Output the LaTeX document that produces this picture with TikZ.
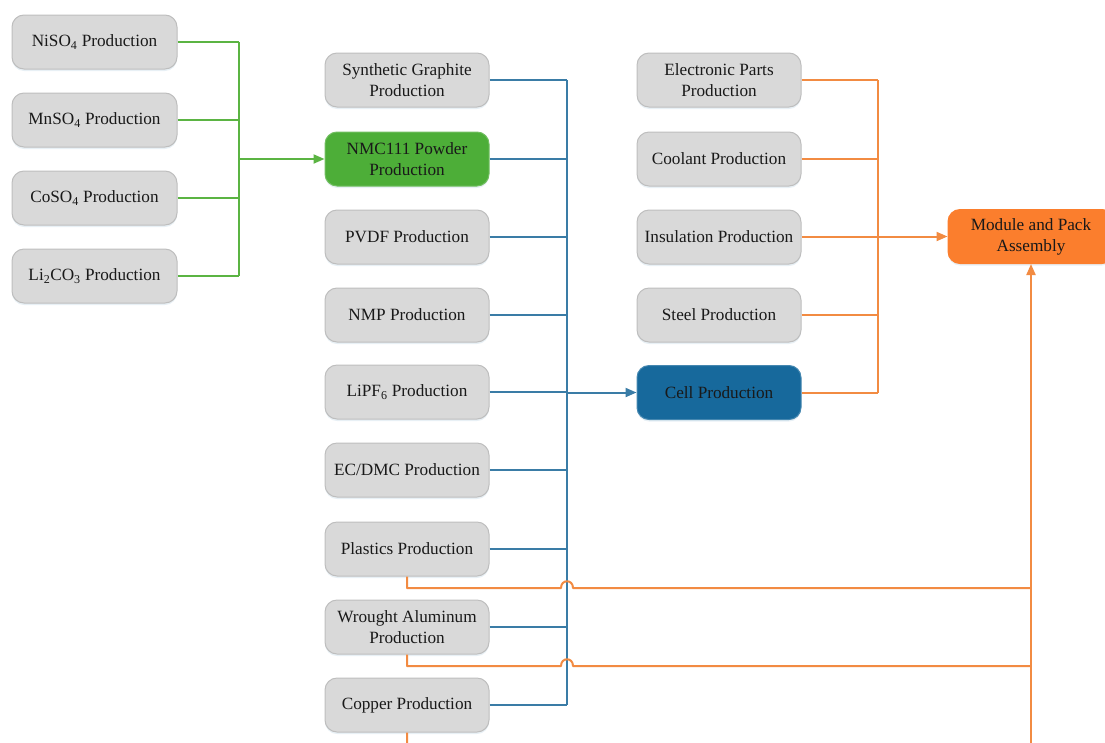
\documentclass[tikz,border=0pt]{standalone}
\usepackage{fontspec}
\setmainfont{Liberation Serif}
\usetikzlibrary{arrows.meta,shadows}
\definecolor{boxgray}{HTML}{D9D9D9}
\definecolor{rimgray}{HTML}{BEBEBE}
\definecolor{leafgreen}{HTML}{4DAE38}
\definecolor{linegreen}{HTML}{5BB443}
\definecolor{cellblue}{HTML}{17699C}
\definecolor{lineblue}{HTML}{3A7CA6}
\definecolor{packorange}{HTML}{FB7E2D}
\definecolor{lineorange}{HTML}{F28B42}
\begin{document}
\begin{tikzpicture}[x=1pt, y=-1pt, line join=round, >={Triangle[length=11pt,width=9pt]},
	font=\fontsize{17.2}{21}\selectfont,
	proc/.style={draw=rimgray, fill=boxgray, line width=1pt, rounded corners=12pt,
		minimum width=164pt, minimum height=54pt, align=center, text=black!90,
		drop shadow={shadow xshift=0pt, shadow yshift=-2pt, fill=cellblue!25, opacity=0.4}},
	greenbox/.style={proc, fill=leafgreen, draw=leafgreen!80!white},
	bluebox/.style={proc, fill=cellblue, draw=cellblue!80!white},
	orangebox/.style={proc, fill=packorange, draw=packorange, minimum width=166pt},
	gline/.style={linegreen, line width=2pt},
	bline/.style={lineblue, line width=2pt},
	oline/.style={lineorange, line width=2pt}]
	\clip (0,0) rectangle (1105,742);
	% raw materials for the cathode
	\foreach \ten/\y/\txt in {ni/42/NiSO\textsubscript{4} Production, mn/120/MnSO\textsubscript{4} Production,
		co/198/CoSO\textsubscript{4} Production, li/276/Li\textsubscript{2}CO\textsubscript{3} Production}
		\node[proc, minimum width=165pt] (\ten) at (94.5,\y) {\txt};
	% cell materials
	\node[proc] (sg) at (407,80) {Synthetic Graphite\\Production};
	\node[greenbox] (nmc) at (407,159) {NMC111 Powder\\Production};
	\foreach \ten/\y/\txt in {pvdf/237/PVDF Production, nmp/315/NMP Production,
		lipf/392/LiPF\textsubscript{6} Production, ec/470/{EC/DMC Production}}
		\node[proc] (\ten) at (407,\y) {\txt};
	\node[proc] (plast) at (407,549) {Plastics Production};
	\node[proc] (alu) at (407,627) {Wrought Aluminum\\Production};
	\node[proc] (cu) at (407,705) {Copper Production};
	% pack parts
	\node[proc] (elec) at (719,80) {Electronic Parts\\Production};
	\foreach \ten/\y/\txt in {cool/159/Coolant Production, ins/237/Insulation Production, steel/315/Steel Production}
		\node[proc] (\ten) at (719,\y) {\txt};
	\node[bluebox] (cell) at (719,392.5) {Cell Production};
	\node[orangebox] (pack) at (1031,236.5) {Module and Pack\\Assembly};
	% busbars
	\path (239,42) coordinate (gtop) (239,276) coordinate (gbot) (239,159) coordinate (gmid)
		(567,80) coordinate (btop) (567,705) coordinate (bbot) (567,392.5) coordinate (bmid)
		(878,80) coordinate (otop) (878,392.5) coordinate (obot) (878,236.5) coordinate (omid)
		(1031,760) coordinate (pfoot);
	\foreach \ten in {ni,mn,co,li} \draw[gline] (\ten.east) -- (\ten.east -| gtop);
	\draw[gline] (gtop) -- (gbot);
	\draw[gline,->] (gmid) -- (nmc.west);
	\foreach \ten in {sg,nmc,pvdf,nmp,lipf,ec,plast,alu,cu} \draw[bline] (\ten.east) -- (\ten.east -| btop);
	\draw[bline] (btop) -- (bbot);
	\draw[bline,->] (bmid) -- (cell.west);
	\foreach \ten in {elec,cool,ins,steel,cell} \draw[oline] (\ten.east) -- (\ten.east -| otop);
	\draw[oline] (otop) -- (obot);
	\draw[oline,->] (omid) -- (pack.west);
	% hops over the blue bus
	\foreach \ten/\y in {plast/588, alu/666, cu/752}
		\draw[oline] (\ten.south) -- (407,\y) -- (561,\y) .. controls (561,\y-9) and (573,\y-9) .. (573,\y) -- (pfoot |- 0,\y);
	\draw[oline,->] (pfoot) -- (pack.south);
\end{tikzpicture}
\end{document}
